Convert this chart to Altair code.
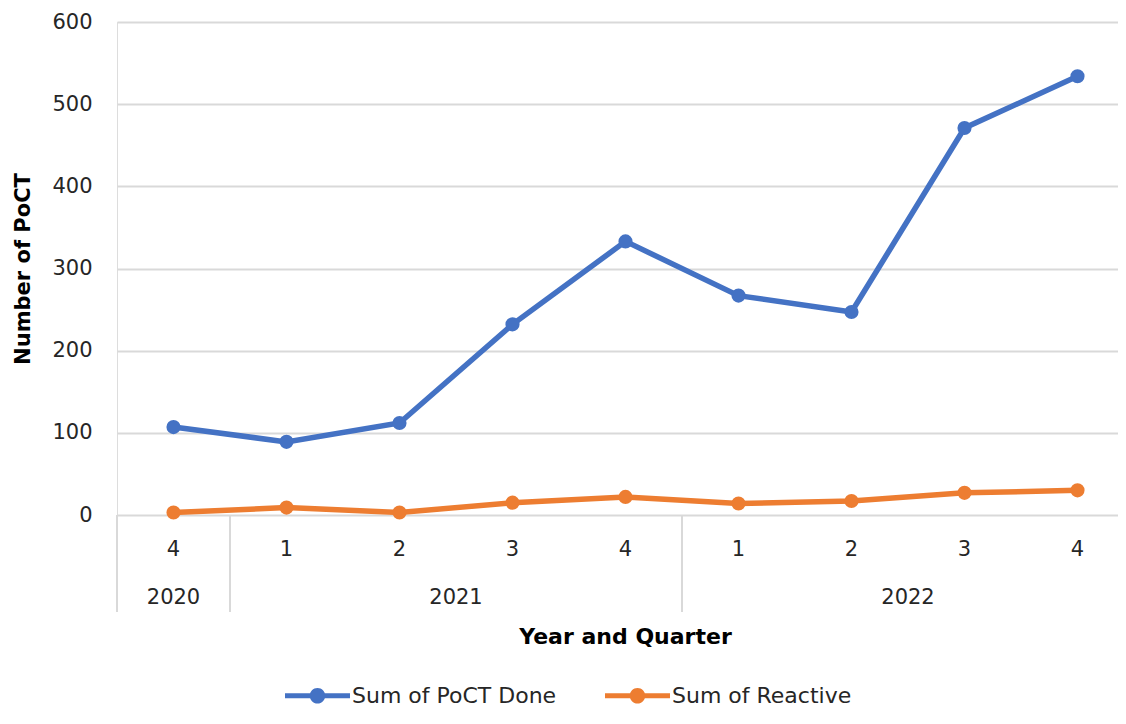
import altair as alt
import pandas as pd

# ---- data ----
years = [2020, 2021, 2021, 2021, 2021, 2022, 2022, 2022, 2022]
quarters = [4, 1, 2, 3, 4, 1, 2, 3, 4]
poct_done = [107, 89, 112, 232, 333, 267, 247, 471, 534]
reactive = [3, 9, 3, 15, 22, 14, 17, 27, 30]
series_names = ["Sum of PoCT Done", "Sum of Reactive"]
series_colors = ["#4472C4", "#ED7D31"]
y_ticks = [0, 100, 200, 300, 400, 500, 600]
x_title = "Year and Quarter"
y_title = "Number of PoCT"

# ---- tables ----
idx = list(range(len(years)))
long_df = pd.DataFrame({
    "idx": idx + idx,
    "value": poct_done + reactive,
    "series": [series_names[0]] * len(idx) + [series_names[1]] * len(idx),
})
quarter_df = pd.DataFrame({"idx": idx, "q": [str(q) for q in quarters]})
year_groups = {}
for i, yv in zip(idx, years):
    year_groups.setdefault(yv, []).append(i)
year_df = pd.DataFrame({
    "idx": [sum(v) / len(v) for v in year_groups.values()],
    "year": [str(k) for k in year_groups.keys()],
})
seps = [idx[0] - 0.5] + [i - 0.5 for i in idx[1:] if years[i] != years[i - 1]]
sep_df = pd.DataFrame({"idx": seps})
xt_df = pd.DataFrame({"idx": [(idx[0] + idx[-1]) / 2], "t": [x_title]})

# ---- layout ----
W, H = 1001, 493
PX_PER_CAT = 113
XMAX = -0.5 + W / PX_PER_CAT
FONT = "DejaVu Sans"
TXT = "#262626"
GRID = "#d9d9d9"
LSIZE = 21

xscale = alt.Scale(domain=[-0.5, XMAX], nice=False, zero=False)
x = alt.X("idx:Q", scale=xscale, axis=None)

legend_path = ("M-1,-0.08L1,-0.08L1,0.08L-1,0.08Z "
               "M-0.24,0A0.24,0.24,0,1,1,0.24,0A0.24,0.24,0,1,1,-0.24,0Z")

color_scale = alt.Scale(domain=series_names, range=series_colors)

lines = alt.Chart(long_df).mark_line(strokeWidth=5.5).encode(
    x=x,
    y=alt.Y("value:Q", scale=alt.Scale(domain=[0, 600], nice=False),
            axis=alt.Axis(values=y_ticks, title=y_title, grid=True, gridColor=GRID,
                          gridWidth=2, domain=False, ticks=False, labelPadding=25,
                          labelFontSize=LSIZE, labelFont=FONT, labelColor=TXT,
                          titleFontSize=21, titleFont=FONT, titleFontWeight="bold",
                          titleColor="#000000", titleX=-94, titleY=H / 2,
                          titleBaseline="middle", titleAlign="center")),
    color=alt.Color("series:N", scale=color_scale, legend=None),
)

points = alt.Chart(long_df).mark_point(filled=True, size=200, opacity=1).encode(
    x=x,
    y=alt.Y("value:Q"),
    color=alt.Color("series:N", scale=color_scale,
                    legend=alt.Legend(orient="none", legendX=168, legendY=641,
                                      direction="horizontal", title=None,
                                      symbolType=legend_path, symbolSize=4225,
                                      symbolStrokeWidth=0, symbolOpacity=1,
                                      labelFontSize=22, labelFont=FONT, labelColor=TXT,
                                      labelLimit=600, labelOffset=2, columnPadding=48)),
)

sep_rules = alt.Chart(sep_df).mark_rule(color=GRID, strokeWidth=2).encode(
    x=x, y=alt.value(H), y2=alt.value(H + 97)
)

q_text = alt.Chart(quarter_df).mark_text(fontSize=LSIZE, font=FONT, color=TXT,
                                          baseline="middle").encode(
    x=x, y=alt.value(H + 35), text="q:N"
)

y_text = alt.Chart(year_df).mark_text(fontSize=LSIZE, font=FONT, color=TXT,
                                       baseline="middle").encode(
    x=x, y=alt.value(H + 83), text="year:N"
)

xt_text = alt.Chart(xt_df).mark_text(fontSize=22, font=FONT, fontWeight="bold",
                                      color="#000000", baseline="middle").encode(
    x=x, y=alt.value(H + 122), text="t:N"
)

chart = alt.layer(sep_rules, lines, points, q_text, y_text, xt_text).resolve_legend(
    color="independent"
).properties(
    width=W, height=H,
    autosize=alt.AutoSizeParams(type="none"),
    padding={"left": 109, "top": 14, "right": 0, "bottom": 197},
).configure_view(strokeWidth=0).configure(font=FONT)

chart.save("out.html", embed_options={"renderer": "svg", "actions": False})
